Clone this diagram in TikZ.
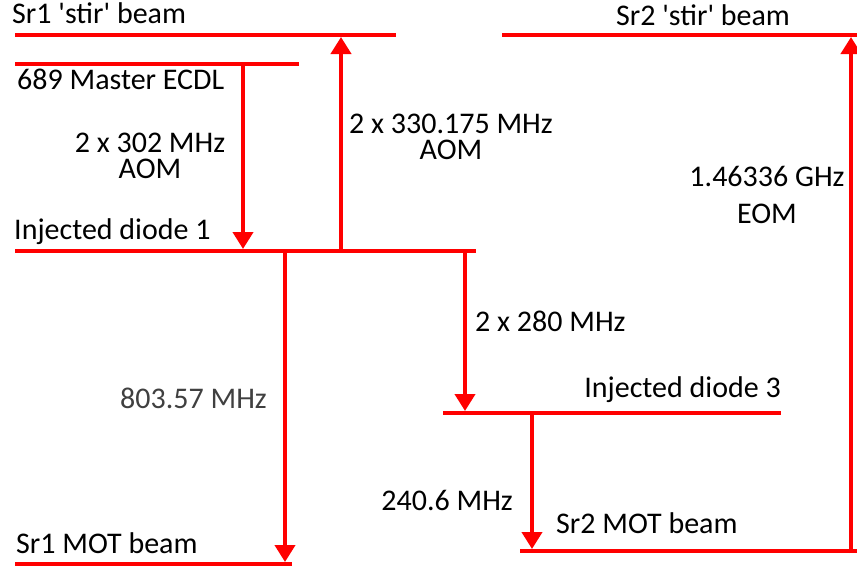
\documentclass[tikz,border=0pt]{standalone}
\usepackage{fontspec}
\setmainfont{Carlito}[Ligatures=TeXOff]
\usetikzlibrary{arrows.meta}
\definecolor{lvlred}{RGB}{255,0,0}
\definecolor{darkgraytxt}{RGB}{64,64,64}
\tikzset{
  levelline/.style={draw=lvlred, line width=4pt},
  transarrow/.style={draw=lvlred, line width=4pt, -{Triangle[length=17pt,width=20pt]}},
  lbl/.style={inner sep=0pt, text height=20pt, text depth=4pt, font=\fontsize{30}{36}\selectfont},
}
\begin{document}
\begin{tikzpicture}[x=1pt,y=-1pt]
\useasboundingbox (0,0) rectangle (857,566);
% level line end points
\coordinate (s1a) at (15,35);   \coordinate (s1b) at (396,35);
\coordinate (ma) at (15,64);    \coordinate (mb) at (299,64);
\coordinate (i1a) at (15,251);  \coordinate (i1b) at (476,251);
\coordinate (i3a) at (443,413); \coordinate (i3b) at (781,413);
\coordinate (m1a) at (15,564);  \coordinate (m1b) at (292,564);
\coordinate (m2a) at (520,551); \coordinate (m2b) at (857,551);
\coordinate (s2a) at (502,35);  \coordinate (s2b) at (857,35);
% levels
\draw[levelline] (s1a) -- (s1b);
\draw[levelline] (ma) -- (mb);
\draw[levelline] (i1a) -- (i1b);
\draw[levelline] (i3a) -- (i3b);
\draw[levelline] (m1a) -- (m1b);
\draw[levelline] (m2a) -- (m2b);
\draw[levelline] (s2a) -- (s2b);
% transition end points
\coordinate (t1s) at (243,64);  \coordinate (t1e) at (243,249);
\coordinate (t2s) at (341,251); \coordinate (t2e) at (341,37);
\coordinate (t3s) at (285,251); \coordinate (t3e) at (285,562);
\coordinate (t4s) at (465,251); \coordinate (t4e) at (465,411);
\coordinate (t5s) at (532,413); \coordinate (t5e) at (532,549);
\coordinate (t6s) at (851,553); \coordinate (t6e) at (851,37);
\draw[transarrow] (t1s) -- (t1e);
\draw[transarrow] (t2s) -- (t2e);
\draw[transarrow] (t3s) -- (t3e);
\draw[transarrow] (t4s) -- (t4e);
\draw[transarrow] (t5s) -- (t5e);
\draw[transarrow] (t6s) -- (t6e);
% labels
\node[lbl, anchor=base west] (ls1) at (12,23) {Sr1 'stir' beam};
\node[lbl, anchor=base west] (lm) at (17,89) {689 Master ECDL};
\node[lbl, anchor=base] (la1) at (150,152) {2 x 302 MHz};
\node[lbl, anchor=base] (la1b) at (150,178) {AOM};
\node[lbl, anchor=base] (la2) at (451,133) {2 x 330.175 MHz};
\node[lbl, anchor=base] (la2b) at (451,159) {AOM};
\node[lbl, anchor=base west] (li1) at (14,239) {Injected diode 1};
\node[lbl, anchor=base west] (la3) at (475,331) {2 x 280 MHz};
\node[lbl, anchor=base east, text=darkgraytxt] (la4) at (267,408) {803.57 MHz};
\node[lbl, anchor=base east] (li3) at (781,397) {Injected diode 3};
\node[lbl, anchor=base east] (la5) at (513,510) {240.6 MHz};
\node[lbl, anchor=base west] (lm2) at (556,533) {Sr2 MOT beam};
\node[lbl, anchor=base west] (lm1) at (16,553) {Sr1 MOT beam};
\node[lbl, anchor=base] (ls2) at (703,25) {Sr2 'stir' beam};
\node[lbl, anchor=base] (le1) at (767,186) {1.46336 GHz};
\node[lbl, anchor=base] (le2) at (767,223) {EOM};
\end{tikzpicture}
\end{document}
